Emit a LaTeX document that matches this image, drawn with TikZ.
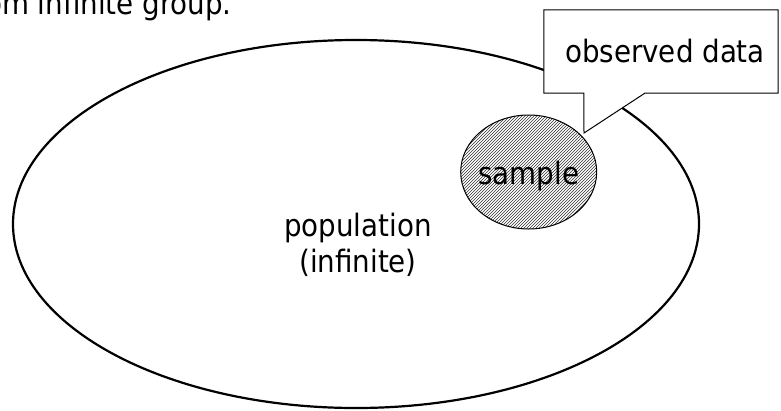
\documentclass[tikz,border=0pt]{standalone}
\usepackage{fontspec}
\setmainfont{DejaVu Sans Condensed}
\usetikzlibrary{shapes.geometric,patterns,calc}

\tikzset{
  label text/.style={font=\fontsize{30.8}{35.5}\selectfont, text=black, inner sep=0pt},
  population/.style={ellipse, draw=black, line width=2.2pt, minimum width=686pt, minimum height=368pt, inner sep=0pt},
  samplebox/.style={ellipse, draw=black, line width=1pt, pattern=north east lines, pattern color=black!80,
    minimum width=136pt, minimum height=114pt, inner sep=0pt},
  calloutbox/.style={draw=black, line width=1pt, fill=white},
}

\begin{document}
\begin{tikzpicture}[x=1pt,y=-1pt]
  \useasboundingbox (0,0) rectangle (781,410);
  \clip (0,0) rectangle (781,410);
  \fill[white] (0,0) rectangle (781,410);

  % heading line, cut by the top edge
  \node[label text, anchor=base east] (head) at (232,14) {from infinite group.};

  % the population and the sample drawn from it
  \node[population] (pop) at (356,224) {};
  \node[label text, align=center] (poptext) at (358,245) {population\\(infinite)};

  \node[samplebox] (sample) at (528.7,172) {};
  \node[label text] (sampletext) at (528.7,176) {sample};

  % callout pointing at the sample
  \node[minimum width=234pt, minimum height=83pt, inner sep=0pt] (obs) at (661,51.5) {};
  \coordinate (tip) at (584,133);
  \draw[calloutbox] (obs.north west) -- (obs.north east) -- (obs.south east)
    -- ($(obs.south west)+(101,0)$) -- (tip) -- ($(obs.south west)+(40,0)$)
    -- (obs.south west) -- cycle;
  \node[label text] (obstext) at ($(obs.center)+(4,0)$) {observed data};
\end{tikzpicture}
\end{document}
